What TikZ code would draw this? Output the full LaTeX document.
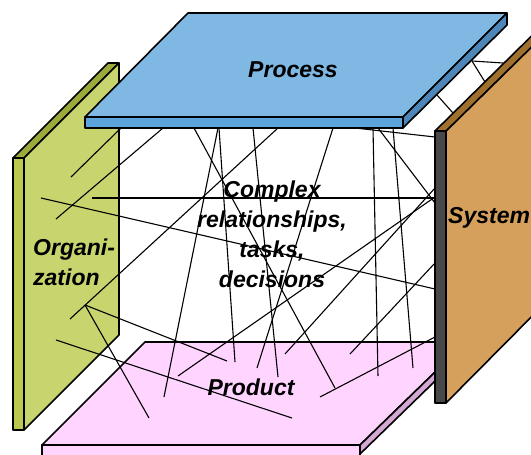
\documentclass[tikz,border=0pt]{standalone}
\usepackage{fontspec}
\setmainfont{Liberation Sans}

\begin{document}
\begin{tikzpicture}[x=1pt,y=-1pt,
        panel/.style={draw=black, line width=1.6pt, line join=round},
        link/.style={black, line width=1.1pt},
        tag/.style={font=\fontsize{23}{30}\selectfont\bfseries\itshape, inner sep=0pt}]
        % Define colors
        \definecolor{orgFront}{RGB}{200, 212, 110}
        \definecolor{orgTop}{RGB}{156, 170, 58}
        \definecolor{orgSide}{RGB}{188, 200, 78}
        \definecolor{procTop}{RGB}{128, 184, 228}
        \definecolor{procFront}{RGB}{92, 164, 220}
        \definecolor{procSide}{RGB}{78, 134, 184}
        \definecolor{sysFront}{RGB}{212, 160, 92}
        \definecolor{sysTop}{RGB}{160, 112, 46}
        \definecolor{sysEdge}{RGB}{72, 72, 72}
        \definecolor{prodTop}{RGB}{255, 212, 255}
        \definecolor{prodSide}{RGB}{212, 168, 212}

        \useasboundingbox (0,0) rectangle (531,455);
        \clip (0,0) rectangle (531,455);

        % --- ORGANIZATION (left wall) ---
        \filldraw[panel, fill=orgSide] (13,158) -- (24,158) -- (24,430) -- (13,430) -- cycle;
        \filldraw[panel, fill=orgTop] (13,158) -- (108,63) -- (119,63) -- (24,158) -- cycle;
        \filldraw[panel, fill=orgFront] (24,158) -- (119,63) -- (119,335) -- (24,430) -- cycle;

        % --- PRODUCT (floor) ---
        \filldraw[panel, fill=prodTop] (145,342) -- (466,342) -- (360,445) -- (42,445) -- cycle;
        \filldraw[panel, fill=prodTop] (42,445) -- (360,445) -- (360,470) -- (42,470) -- cycle;
        \filldraw[panel, fill=prodSide] (360,445) -- (466,342) -- (466,351) -- (360,454) -- cycle;

        % --- Tangle of links between the four panels ---
        \foreach \xa/\ya/\xb/\yb in {71/177/121/128, 56/219/163/128, 92/198/435/198,
                41/198/435/289, 70/319/278/128, 85/305/227/361, 85/305/149/418,
                56/340/292/418, 164/397/218/128, 178/376/435/197, 235/362/219/128,
                257/368/333/128, 278/377/253/128, 335/388/194/128, 320/397/435/337,
                285/354/435/188, 350/354/435/263, 378/376/373/128, 378/128/435/203,
                393/128/413/368, 355/128/435/137, 472/61/503/63, 472/61/485/82,
                437/95/453/113}
            \draw[link] (\xa,\ya) -- (\xb,\yb);

        % --- PROCESS (ceiling) ---
        \filldraw[panel, fill=procTop] (188,13) -- (507,13) -- (403,117) -- (85,117) -- cycle;
        \filldraw[panel, fill=procFront] (85,117) -- (403,117) -- (403,128) -- (85,128) -- cycle;
        \filldraw[panel, fill=procSide] (403,117) -- (507,13) -- (507,25) -- (403,128) -- cycle;

        % --- SYSTEM (right wall) ---
        \filldraw[panel, fill=sysFront] (446,131) -- (560,19) -- (560,288) -- (446,403) -- cycle;
        \filldraw[panel, fill=sysTop] (435,131) -- (560,8) -- (560,19) -- (446,131) -- cycle;
        \filldraw[panel, fill=sysEdge] (435,131) -- (446,131) -- (446,403) -- (435,403) -- cycle;

        % Labels (base of a multi-line node = its last line)
        \node[tag, anchor=base] (process) at (293,77) {Process};
        \node[tag, anchor=base west] (system) at (448,223) {System};
        \node[tag, anchor=base west, align=left] (organization) at (33,285) {Organi-\\zation};
        \node[tag, anchor=base, align=center] (complex) at (272,287)
            {Complex\\relationships,\\tasks,\\decisions};
        \node[tag, anchor=base] (product) at (251,395) {Product};

    \end{tikzpicture}
\end{document}
